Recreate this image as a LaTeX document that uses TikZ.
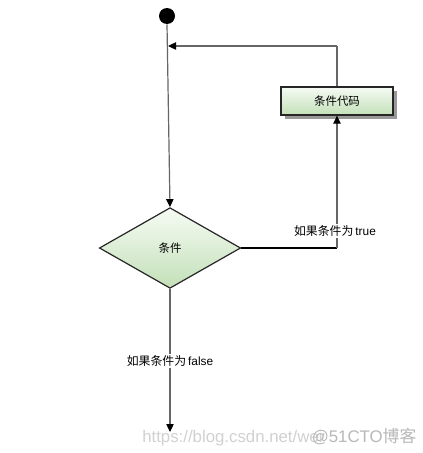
\documentclass[tikz,border=0pt]{standalone}
\usepackage{fontspec}
\setmainfont{Liberation Sans}
\newfontfamily\cjk{Noto Sans CJK SC}
\usetikzlibrary{arrows.meta,shapes.geometric,shadows}
\definecolor{greenfill}{HTML}{C3E0B8}
\definecolor{greentop}{HTML}{F6FBF4}
\definecolor{linegray}{HTML}{666666}
\newcommand{\mixtxt}[2]{{\cjk #1}\,#2}
\tikzset{
  flow/.style={draw=linegray, line width=0.9pt, -{Triangle[length=6pt,width=5.5pt,color=black]}},
  plain/.style={draw=linegray, line width=0.9pt},
  lbl/.style={fill=white, inner sep=1.5pt, font=\fontsize{8.9pt}{10pt}\selectfont},
  boxstyle/.style={draw=black!85, line width=0.9pt, top color=greentop, bottom color=greenfill,
    minimum width=84pt, minimum height=21pt, inner sep=0pt,
    font=\cjk\fontsize{8.6pt}{10pt}\selectfont,
    drop shadow={shadow xshift=3pt, shadow yshift=-3pt, fill=black!40, opacity=1}},
  diamondstyle/.style={diamond, aspect=1.75, draw=black!85, line width=0.9pt, top color=greentop, bottom color=greenfill,
    minimum width=106pt, minimum height=60.5pt, inner sep=0pt,
    font=\cjk\fontsize{8.6pt}{10pt}\selectfont},
}
\begin{document}
\begin{tikzpicture}[x=0.75pt,y=-0.75pt]
\useasboundingbox (0,0) rectangle (423,453);
\fill[white] (0,0) rectangle (423,453);
% start
\node[circle, fill=black, minimum size=12pt, inner sep=0pt] (start) at (167,16) {};
% condition diamond
\node[diamondstyle] (cond) at (170,248) {条件};
% code box
\node[boxstyle] (code) at (337,101) {条件代码};
% coordinates
\coordinate (merge) at (168,46);
\coordinate (corner) at (337,46);
\coordinate (rcorner) at (337,248);
\coordinate (endpt) at (170,432);
% start to condition
\draw[flow] (start.south) -- (cond.north);
% loop back from code to main line
\draw[plain] (code.north) -- (corner);
\draw[flow] (corner) -- (merge);
% true branch
\draw[plain, draw=black] (cond.east) -- (rcorner);
\draw[flow] (rcorner) -- (code.south);
\node[lbl] (tlabel) at (335,231) {\mixtxt{如果条件为}{true}};
% false branch
\draw[flow] (cond.south) -- (endpt);
\node[lbl] (flabel) at (170,361) {\mixtxt{如果条件为}{false}};
% watermark
\node[text=black!18, font=\fontsize{12.6pt}{14pt}\selectfont, inner sep=0pt, anchor=west] (wm) at (142,437) {https://blog.csdn.net/wei\hspace{-8pt}\textcolor{black!28}{@51CTO{\cjk 博客}}};
\end{tikzpicture}
\end{document}
